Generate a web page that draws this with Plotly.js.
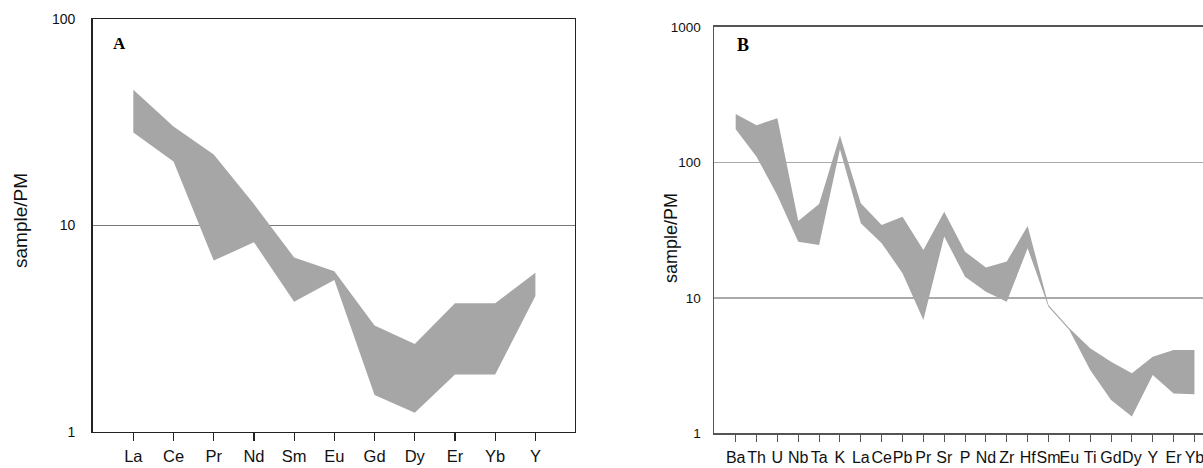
<!DOCTYPE html>
<html>
<head>
<meta charset="utf-8">
<script src="https://cdn.plot.ly/plotly-3.0.1.min.js"></script>
<style>html,body{margin:0;padding:0;background:#fff;}#chart{width:1203px;height:468px;}</style>
</head>
<body>
<div id="chart"></div>
<script>
// Panel A: REE pattern (sample / primitive mantle)
const elementsA = ['La','Ce','Pr','Nd','Sm','Eu','Gd','Dy','Er','Yb','Y'];
const upperA = [45.4, 30.2, 22.1, 12.7, 7.0, 6.0, 3.28, 2.67, 4.2, 4.2, 5.9];
const lowerA = [28.2, 20.4, 6.76, 8.3, 4.27, 5.45, 1.51, 1.24, 1.9, 1.9, 4.55];

// Panel B: multi-element spider diagram
const elementsB = ['Ba','Th','U','Nb','Ta','K','La','Ce','Pb','Pr','Sr','P','Nd','Zr','Hf','Sm','Eu','Ti','Gd','Dy','Y','Er','Yb'];
const upperB = [227, 188, 211, 36.9, 49.3, 158, 49.8, 34.5, 39.7, 22.5, 43.2, 21.9, 16.7, 18.5, 33.9, 8.85, 5.96, 4.24, 3.38, 2.77, 3.68, 4.12, 4.12];
const lowerB = [175, 110, 57, 25.9, 24.5, 125, 35.5, 25.3, 15.2, 6.86, 28.3, 14.3, 11.1, 9.36, 23.2, 8.6, 5.78, 2.93, 1.76, 1.33, 2.69, 1.97, 1.94];

const yTicksA = [1, 10, 100];
const yTicksB = [1, 10, 100, 1000];
const yTitle = 'sample/PM';

const band = '#a6a6a6';
const font = 'Liberation Sans, Arial, Helvetica, sans-serif';
const serif = 'Liberation Serif, Times New Roman, serif';

const traceA = {
  x: elementsA.concat(elementsA.slice().reverse()),
  y: upperA.concat(lowerA.slice().reverse()),
  xaxis: 'x', yaxis: 'y',
  type: 'scatter', mode: 'lines', fill: 'toself',
  fillcolor: band, line: {width: 0, color: band},
  hoverinfo: 'skip', showlegend: false
};
const traceB = {
  x: elementsB.concat(elementsB.slice().reverse()),
  y: upperB.concat(lowerB.slice().reverse()),
  xaxis: 'x2', yaxis: 'y2',
  type: 'scatter', mode: 'lines', fill: 'toself',
  fillcolor: band, line: {width: 0, color: band},
  hoverinfo: 'skip', showlegend: false
};

const layout = {
  width: 1203, height: 468,
  margin: {l: 0, r: 0, t: 0, b: 0},
  paper_bgcolor: '#fff', plot_bgcolor: '#fff',
  font: {family: font, color: '#111'},
  showlegend: false,
  xaxis: {
    domain: [92.5/1203, 575/1203], anchor: 'y',
    type: 'category', categoryorder: 'array', categoryarray: elementsA,
    range: [-1.015, 10.985],
    showline: true, linecolor: '#222', linewidth: 1.3, mirror: true,
    ticks: 'outside', ticklen: 8, tickcolor: '#222', tickwidth: 1.2,
    tickangle: 0, ticklabelstandoff: 1,
    tickfont: {size: 16.5, family: font, color: '#111'},
    showgrid: false, zeroline: false, fixedrange: true
  },
  yaxis: {
    domain: [(468-432)/468, (468-19)/468], anchor: 'x',
    type: 'log', range: [0, 2],
    tickmode: 'array', tickvals: yTicksA, ticktext: yTicksA.map(String),
    showline: true, linecolor: '#222', linewidth: 1.3, mirror: true,
    ticks: '', ticklabelstandoff: 13,
    tickfont: {size: 14, family: font, color: '#111'},
    showgrid: true, gridcolor: '#777', gridwidth: 1,
    zeroline: false, fixedrange: true
  },
  xaxis2: {
    domain: [714/1203, 1], anchor: 'y2',
    type: 'category', categoryorder: 'array', categoryarray: elementsB,
    range: [-1.04, 22.41],
    showline: true, linecolor: '#555', linewidth: 1.5, mirror: true,
    ticks: 'outside', ticklen: 7, tickcolor: '#555', tickwidth: 1,
    tickangle: 0, ticklabelstandoff: 2,
    tickfont: {size: 16, family: font, color: '#111'},
    showgrid: false, zeroline: false, fixedrange: true
  },
  yaxis2: {
    domain: [(468-433.3)/468, (468-26.8)/468], anchor: 'x2',
    type: 'log', range: [0, 3],
    tickmode: 'array', tickvals: yTicksB, ticktext: yTicksB.map(String),
    showline: true, linecolor: '#555', linewidth: 1.5, mirror: false,
    ticks: '', ticklabelstandoff: 9,
    tickfont: {size: 13.5, family: font, color: '#111'},
    showgrid: true, gridcolor: '#aaa', gridwidth: 1.5,
    zeroline: false, fixedrange: true
  },
  annotations: [
    {text: '<b>A</b>', xref: 'paper', yref: 'paper', x: 119.5/1203, y: (468-43)/468,
     xanchor: 'center', yanchor: 'middle', showarrow: false,
     font: {family: serif, size: 17, color: '#000'}},
    {text: '<b>B</b>', xref: 'paper', yref: 'paper', x: 743/1203, y: (468-45)/468,
     xanchor: 'center', yanchor: 'middle', showarrow: false,
     font: {family: serif, size: 18, color: '#000'}},
    {text: yTitle, xref: 'paper', yref: 'paper', x: 20/1203, y: (468-221)/468,
     xanchor: 'center', yanchor: 'middle', textangle: -90, showarrow: false,
     font: {family: font, size: 19, color: '#111'}},
    {text: yTitle, xref: 'paper', yref: 'paper', x: 671/1203, y: (468-238)/468,
     xanchor: 'center', yanchor: 'middle', textangle: -90, showarrow: false,
     font: {family: font, size: 18, color: '#111'}}
  ]
};

Plotly.newPlot('chart', [traceA, traceB], layout, {staticPlot: true, displayModeBar: false});
</script>
</body>
</html>
